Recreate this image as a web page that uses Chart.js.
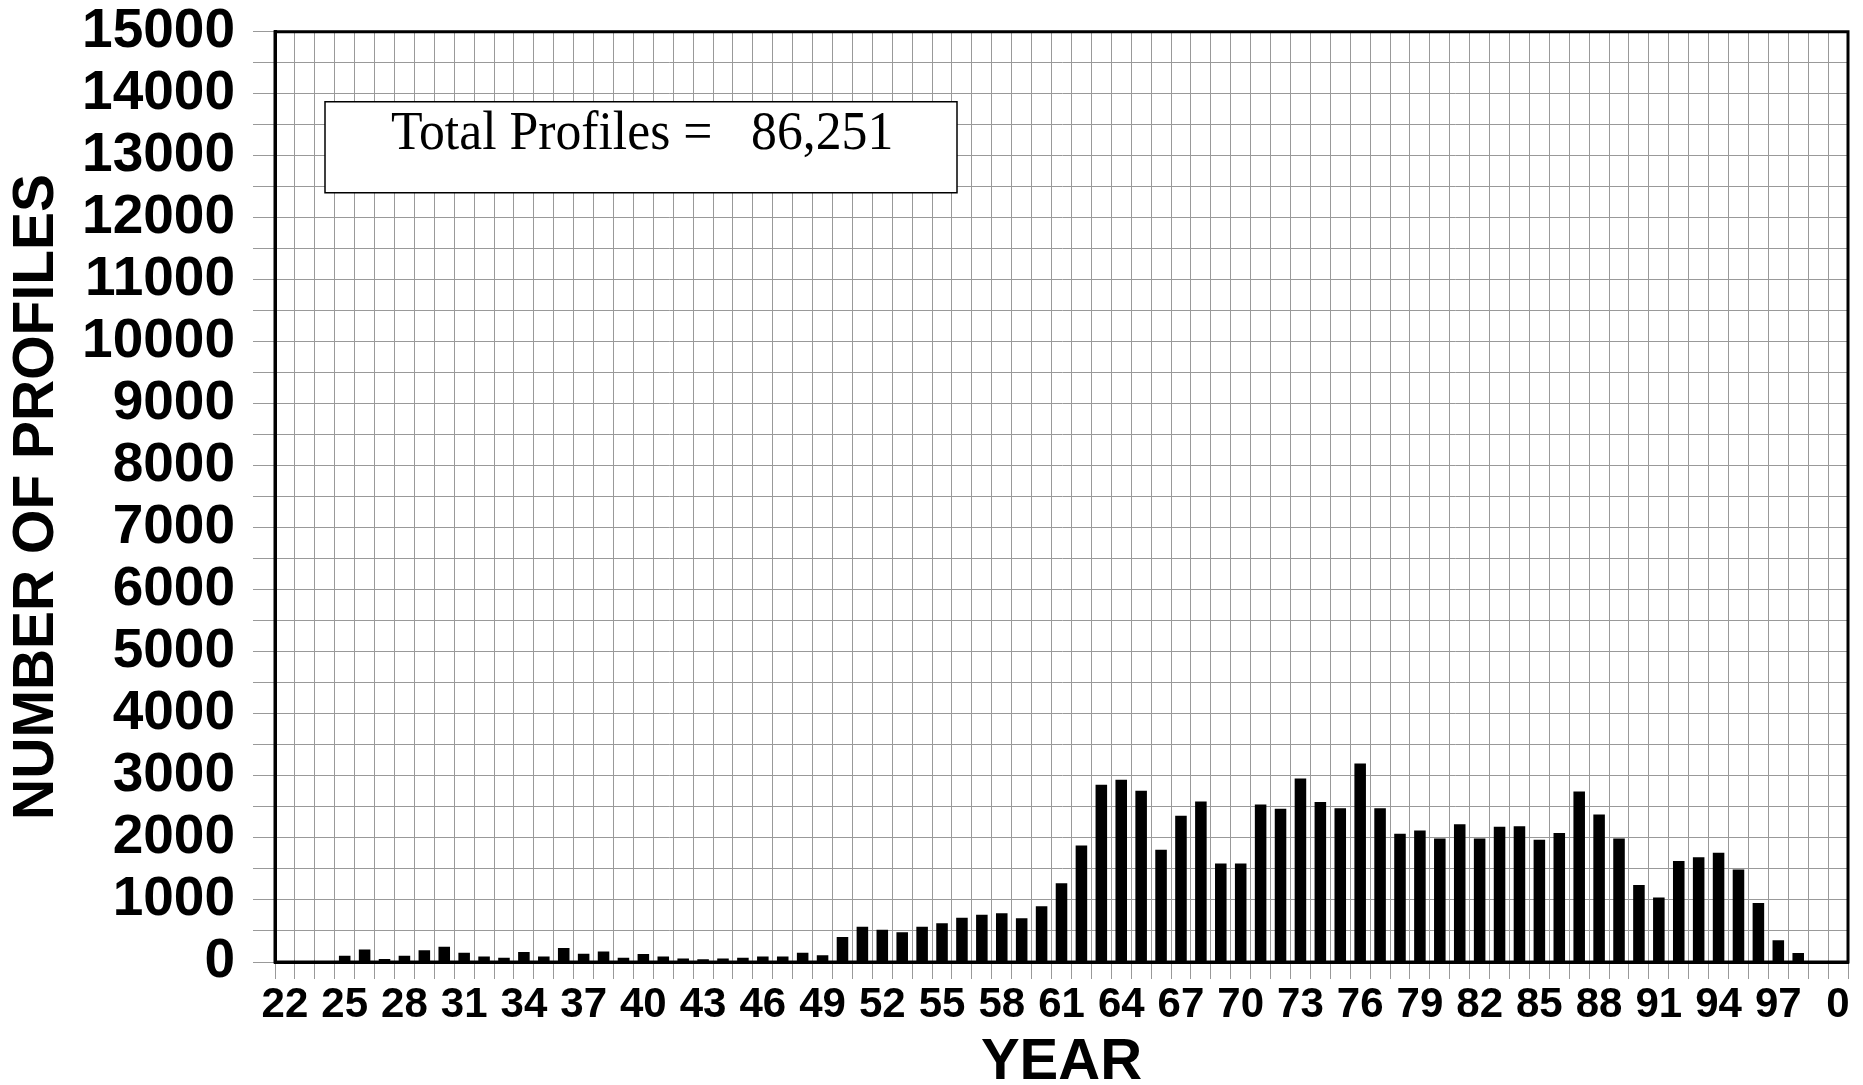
<!DOCTYPE html>
<html>
<head>
<meta charset="utf-8">
<script src="https://cdn.jsdelivr.net/npm/chart.js@4.4.1/dist/chart.umd.min.js"></script>
<style>
    html, body { margin: 0; padding: 0; background: #fff; }
    #wrap { width: 1863px; height: 1085px; }
</style>
</head>
<body>
<div id="wrap"><canvas id="profilesChart" width="1863" height="1085"></canvas></div>
<script>
// years 1922 .. 2000, shown as two digits
const years = ['22','23','24','25','26','27','28','29','30','31','32','33','34','35','36','37','38','39','40','41',
    '42','43','44','45','46','47','48','49','50','51','52','53','54','55','56','57','58','59','60','61',
    '62','63','64','65','66','67','68','69','70','71','72','73','74','75','76','77','78','79','80','81',
    '82','83','84','85','86','87','88','89','90','91','92','93','94','95','96','97','98','99','0'];

// number of profiles per year
const profiles = [0, 0, 0, 100, 200, 50, 100, 190, 245, 150,
    90, 70, 160, 90, 225, 135, 170, 70, 130, 90,
    55, 45, 55, 70, 90, 90, 150, 110, 405, 570,
    520, 480, 570, 625, 715, 760, 785, 705, 900, 1270,
    1880, 2860, 2940, 2760, 1810, 2360, 2590, 1590, 1590, 2540,
    2470, 2960, 2580, 2480, 3200, 2480, 2070, 2120, 1990, 2220,
    1990, 2180, 2190, 1970, 2080, 2750, 2380, 1990, 1240, 1040,
    1630, 1690, 1760, 1490, 950, 350, 145, 0, 0];

const totalLabel = 'Total Profiles =   86,251';
const yTicksEvery = 1000;

const gridGrey = '#999999';

// thick black frame round the plot + the total box
const framePlugin = {
    id: 'frame',
    afterDraw(chart) {
        const ctx = chart.ctx;
        const a = chart.chartArea;
        ctx.save();
        ctx.strokeStyle = '#000';
        ctx.lineWidth = 3;
        ctx.strokeRect(a.left, a.top, a.right - a.left, a.bottom - a.top);

        // total box
        const bx = a.left + 50, by = a.top + 70, bw = 632, bh = 91;
        ctx.fillStyle = '#fff';
        ctx.fillRect(bx, by, bw, bh);
        ctx.lineWidth = 1.5;
        ctx.strokeRect(bx, by, bw, bh);

        ctx.fillStyle = '#000';
        ctx.font = '55px "Liberation Serif", "Times New Roman", serif';
        ctx.textBaseline = 'alphabetic';
        ctx.textAlign = 'left';
        ctx.translate(bx + 66, by + 47);
        ctx.scale(0.94, 1);
        ctx.fillText(totalLabel, 0, 0);
        ctx.restore();
    }
};

const ctx = document.getElementById('profilesChart').getContext('2d');
new Chart(ctx, {
    type: 'bar',
    data: {
        labels: years,
        datasets: [{
            label: 'Number of profiles',
            data: profiles,
            backgroundColor: '#000',
            borderWidth: 0,
            barPercentage: 0.58,
            categoryPercentage: 1.0
        }]
    },
    options: {
        responsive: false,
        animation: false,
        devicePixelRatio: 1,
        layout: { padding: { left: 0, top: 30, right: 15, bottom: 0 } },
        plugins: {
            legend: { display: false },
            tooltip: { enabled: false }
        },
        scales: {
            x: {
                afterFit: s => { s.height = 123; },
                grid: { color: gridGrey, lineWidth: 1, offset: true, tickLength: 17, drawTicks: true },
                border: { color: '#000', width: 3 },
                ticks: {
                    autoSkip: false,
                    maxRotation: 0,
                    padding: 1,
                    color: '#000',
                    font: { family: '"Liberation Sans", Arial, sans-serif', size: 42, weight: 'bold' },
                    callback: function(val, i) { return i % 3 === 0 ? years[i] : ''; }
                },
                title: {
                    display: true,
                    text: 'YEAR',
                    color: '#000',
                    padding: { top: 0, bottom: 0 },
                    font: { family: '"Liberation Sans", Arial, sans-serif', size: 58, weight: 'bold', lineHeight: 0.75 }
                }
            },
            y: {
                min: 0,
                max: 15000,
                afterFit: s => { s.width = 275; },
                grid: { color: gridGrey, lineWidth: 1, tickLength: 22 },
                border: { color: '#000', width: 3 },
                ticks: {
                    stepSize: 500,
                    autoSkip: false,
                    padding: 18,
                    color: '#000',
                    font: { family: '"Liberation Sans", Arial, sans-serif', size: 55, weight: 'bold', lineHeight: 0.5 },
                    callback: v => (v % yTicksEvery === 0 ? v : '')
                },
                title: {
                    display: true,
                    text: 'NUMBER OF PROFILES',
                    color: '#000',
                    padding: { top: 0, bottom: 0 },
                    font: { family: '"Liberation Sans", Arial, sans-serif', size: 57, weight: 'bold', lineHeight: 1.3 }
                }
            }
        }
    },
    plugins: [framePlugin]
});
</script>
</body>
</html>
